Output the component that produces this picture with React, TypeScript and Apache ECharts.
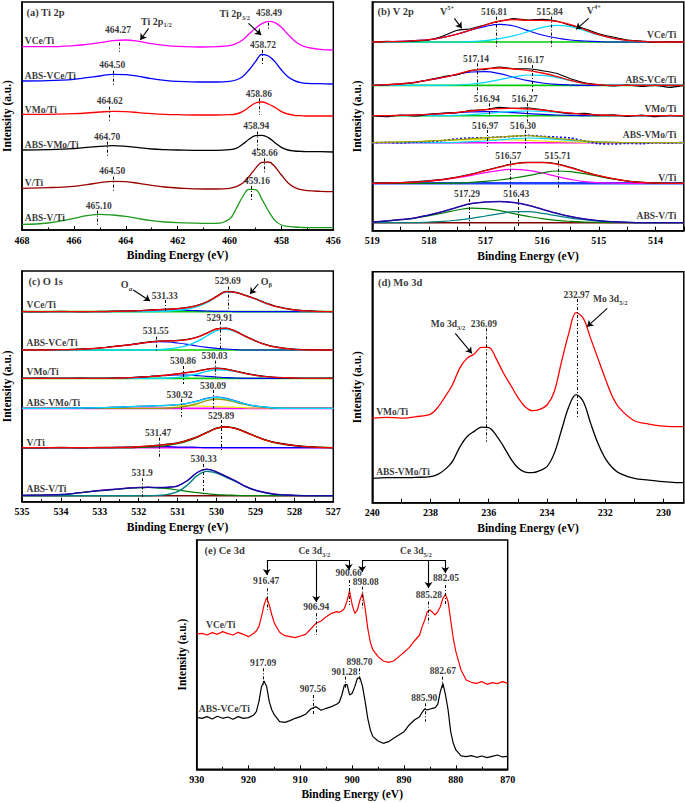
import React, { useEffect, useRef } from 'react';
import * as echarts from 'echarts';

const FONT = '"Liberation Serif", "Times New Roman", serif';

// ---------------- Panel (a) Ti 2p ----------------
const A_X = [468, 467, 466, 465.5, 465, 464.5, 464, 463.5, 463, 462.5, 462, 461, 460.5, 460, 459.75, 459.5, 459.25, 459, 458.75, 458.5, 458.25, 458, 457.75, 457.5, 457.25, 457, 456.5, 456];
const A_VCE = [0, 0, 3, 7, 12, 18, 20, 16, 9, 4, 1, -1, 0, 3, 9, 20, 38, 55, 69, 76, 72, 58, 37, 18, 5, -2, -8, -10];
const A_AVCE = [0, 1, 5, 10, 15, 20, 19, 14, 7, 2, -1, -3, -3, -1, 3, 13, 33, 58, 80, 75, 58, 33, 13, 1, -5, -7, -8, -9];
const A_VMO = [0, 0, 2, 4, 7, 9, 8, 5, 2, 0, -1, -2, -2, -1, 1, 8, 21, 34, 37, 31, 21, 8, 1, -3, -4, -5, -5, -5];
const A_AVMO = [0, 1, 4, 8, 11, 13, 11, 7, 3, 1, 0, -1, -1, 1, 5, 17, 32, 43, 44, 37, 22, 8, 0, -3, -4, -5, -5, -6];
const A_V = [0, 2, 6, 11, 17, 21, 20, 15, 9, 4, 1, -2, -2, 0, 5, 15, 35, 60, 78, 79, 65, 40, 17, 3, -4, -7, -9, -10];
const A_AV = [0, 4, 18, 26, 30, 28, 24, 17, 11, 7, 5, 3, 3, 16, 46, 82, 105, 104, 75, 40, 12, -2, -6, -8, -9, -10, -10, -10];
const A_NAMES = ['VCe/Ti', 'ABS-VCe/Ti', 'VMo/Ti', 'ABS-VMo/Ti', 'V/Ti', 'ABS-V/Ti'];
const A_OFFSETS = [550, 447, 347, 240, 125, 17];
const A_COLORS = ['#ff00ff', '#0000ff', '#ff0000', '#000000', '#990000', '#1e9a1e'];
const A_NAME_Y = [565, 462, 360, 253, 140, 35];
// [line energy, label, text energy, text y, line top, line bottom]
const A_PEAKS: any[] = [
  [464.27, '464.27', 464.28, 598, 562, 535],
  [458.49, '458.49', 458.46, 650, 622, 602],
  [464.5, '464.50', 464.5, 495, 478, 432],
  [458.72, '458.72', 458.69, 555, 540, 495],
  [464.62, '464.62', 464.6, 385, 370, 325],
  [458.86, '458.86', 458.85, 407, 395, 345],
  [464.7, '464.70', 464.7, 278, 265, 218],
  [458.94, '458.94', 458.95, 310, 295, 240],
  [464.5, '464.50', 464.5, 175, 160, 112],
  [458.66, '458.66', 458.63, 230, 215, 170],
  [465.1, '465.10', 465.02, 72, 58, 10],
  [459.16, '459.16', 458.92, 147, 132, 90],
];
const A_ARROWS = [[463.12, 605, 463.44, 570], [459.27, 620, 458.78, 585]];

// ---------------- Panel (b) V 2p ----------------
const B_X = [519, 518.75, 518.5, 518.25, 518, 517.75, 517.5, 517.25, 517, 516.75, 516.5, 516.25, 516, 515.75, 515.5, 515.25, 515, 514.75, 514.5, 514.25, 514, 513.75, 513.5];
const B_VCE_RAW = [0, 2, 1, 3, 6, 18, 35, 40, 52, 62, 70, 66, 68, 63, 50, 40, 25, 15, 6, 3, -1, 1, 0];
const B_VCE_FIT = [0, 1, 2, 4, 7, 14, 24, 37, 51, 63, 67, 65, 65, 62, 52, 37, 22, 11, 5, 2, 0, 0, 0];
const B_VCE_P1 = [0, 1, 2, 4, 7, 14, 24, 36, 47, 53, 48, 34, 21, 12, 6, 3, 1, 0, 0, 0, 0, 0, 0];
const B_VCE_P2 = [0, 0, 0, 0, 0, 0, 0, 1, 4, 10, 19, 31, 44, 50, 46, 34, 21, 11, 5, 2, 0, 0, 0];
const B_AVCE_RAW = [0, 1, 5, 8, 17, 26, 32, 45, 48, 55, 50, 50, 44, 36, 20, 8, 2, -2, 1, -3, 0, -6, 0];
const B_AVCE_FIT = [0, 2, 4, 9, 16, 24, 34, 44, 50, 52, 49, 45, 37, 27, 15, 6, 2, 0, 0, 0, 0, 0, 0];
const B_AVCE_P1 = [0, 2, 4, 9, 16, 24, 33, 40, 41, 35, 24, 14, 7, 3, 1, 0, 0, 0, 0, 0, 0, 0, 0];
const B_AVCE_P2 = [0, 0, 0, 0, 0, 0, 1, 4, 9, 17, 25, 31, 30, 24, 14, 6, 2, 0, 0, 0, 0, 0, 0];
const B_VMO_RAW = [0, -3, 2, -1, 4, 8, 9, 16, 18, 25, 22, 24, 18, 12, 6, 7, 1, 3, -2, 2, -3, 1, -1];
const B_VMO_FIT = [0, 0, 1, 2, 4, 6, 10, 14, 18, 21, 22, 20, 17, 12, 8, 4, 2, 1, 0, 0, 0, 0, 0];
const B_VMO_P1 = [0, 0, 1, 2, 4, 6, 9, 11, 12, 11, 9, 6, 4, 2, 1, 0, 0, 0, 0, 0, 0, 0, 0];
const B_VMO_P2 = [0, 0, 0, 0, 0, 0, 1, 3, 6, 10, 13, 14, 13, 10, 7, 4, 2, 1, 0, 0, 0, 0, 0];
const B_AVMO_RAW = [0, 1, -1, 2, 3, 6, 12, 14, 15, 17, 19, 22, 19, 17, 14, 5, -3, -4, -2, -3, 0, -1, 1];
const B_AVMO_FIT = [0, 1, 2, 3, 5, 7, 9, 12, 15, 17, 20, 21, 18, 13, 9, 5, 2, 1, 0, 0, 0, 0, 0];
const B_AVMO_P1 = [0, 1, 2, 3, 5, 7, 8, 9, 10, 9, 8, 7, 5, 3, 2, 1, 0, 0, 0, 0, 0, 0, 0];
const B_AVMO_P2 = [0, 0, 0, 0, 0, 0, 1, 3, 5, 8, 12, 14, 13, 10, 7, 4, 2, 1, 0, 0, 0, 0, 0];
const B_V_RAW = [0, 1, 2, 5, 8, 12, 19, 28, 39, 50, 59, 63, 63, 59, 48, 35, 23, 14, 7, 3, 1, 0, 0];
const B_V_FIT = [0, 1, 2, 4, 7, 11, 18, 27, 38, 49, 58, 62, 62, 58, 47, 34, 23, 14, 7, 3, 1, 0, 0];
const B_V_P1 = [0, 1, 2, 4, 7, 11, 17, 24, 32, 39, 42, 39, 31, 21, 12, 5, 2, 1, 0, 0, 0, 0, 0];
const B_V_P2 = [0, 0, 0, 0, 0, 0, 1, 3, 6, 10, 16, 23, 31, 37, 35, 29, 21, 13, 7, 3, 1, 0, 0];
const B_AV_RAW = [2, 6, 10, 15, 24, 34, 47, 58, 63, 64, 61, 53, 41, 29, 19, 12, 6, 3, 1, 0, 0, 0, 0];
const B_AV_FIT = [2, 5, 9, 14, 23, 33, 46, 57, 62, 63, 60, 52, 40, 28, 18, 11, 6, 3, 1, 0, 0, 0, 0];
const B_AV_P1 = [2, 5, 9, 14, 21, 29, 38, 44, 42, 36, 27, 19, 12, 7, 4, 2, 1, 0, 0, 0, 0, 0, 0];
const B_AV_P2 = [0, 0, 0, 0, 2, 4, 8, 13, 20, 27, 33, 33, 28, 21, 14, 9, 5, 3, 1, 0, 0, 0, 0];
const B_OFFSETS = [566, 436, 345, 264, 142, 24];
const B_NAME_Y = [587, 452, 364, 285, 157, 42];
// colours: [raw, fit, peak1, peak2, baseline]
const B_COLORS = [
  ['#000000', '#ff0000', '#0000ff', '#00d8ff', '#00cc00'],
  ['#000000', '#ff0000', '#0000ff', '#00d8ff', '#00cc00'],
  ['#000000', '#ff0000', '#0000ff', '#00d8ff', '#00cc00'],
  ['#0000ff', '#a0a000', '#e8e800', '#00d8ff', '#ff00ff'],
  ['#000000', '#ff0000', '#ff00ff', '#008000', '#2040ff'],
  ['#8000c0', '#1010a0', '#008000', '#008080', '#800000'],
];
const B_PEAKS: any[] = [
  [516.81, '516.81', 516.84, 654, 642, 552],
  [515.84, '515.84', 515.86, 654, 642, 552],
  [517.14, '517.14', 517.16, 514, 502, 412],
  [516.17, '516.17', 516.19, 512, 497, 417],
  [516.94, '516.94', 516.97, 395, 382, 342],
  [516.27, '516.27', 516.3, 395, 382, 327],
  [516.97, '516.97', 517.0, 314, 302, 252],
  [516.3, '516.30', 516.33, 314, 302, 247],
  [516.57, '516.57', 516.59, 224, 210, 127],
  [515.71, '515.71', 515.72, 224, 210, 124],
  [517.29, '517.29', 517.32, 109, 95, 7],
  [516.43, '516.43', 516.45, 109, 95, 12],
];
const B_ARROWS = [[517.55, 637, 517.42, 607], [515.18, 637, 515.4, 604]];

// ---------------- Panel (c) O 1s ----------------
const C_X = [535, 534.5, 534, 533.5, 533, 532.5, 532.25, 532, 531.75, 531.5, 531.25, 531, 530.75, 530.5, 530.25, 530, 529.75, 529.5, 529.25, 529, 528.75, 528.5, 528, 527.5, 527];
const C_VCE_RAW = [1, 0, 1, 0, 1, 2, 2, 3, 5, 6, 8, 9, 13, 19, 30, 46, 61, 58, 49, 39, 27, 17, 6, 2, 0];
const C_VCE_FIT = [0, 0, 0, 0, 0, 1, 2, 3, 4, 6, 7, 9, 12, 18, 29, 45, 60, 57, 48, 38, 26, 16, 5, 1, 0];
const C_VCE_OB = [0, 0, 0, 0, 0, 0, 0, 0, 0, 1, 2, 4, 8, 15, 27, 44, 59, 57, 48, 38, 26, 16, 5, 1, 0];
const C_VCE_OA = [0, 0, 0, 0, 0, 1, 2, 3, 4, 5, 5, 5, 4, 3, 2, 1, 1, 0, 0, 0, 0, 0, 0, 0, 0];
const C_AVCE_RAW = [0, 1, 1, 3, 6, 13, 16, 20, 24, 27, 28, 29, 32, 39, 51, 64, 66, 56, 41, 28, 17, 10, 3, 1, 0];
const C_AVCE_FIT = [0, 0, 1, 2, 6, 12, 15, 19, 23, 26, 27, 28, 31, 38, 50, 63, 65, 55, 40, 27, 16, 9, 2, 0, 0];
const C_AVCE_OB = [0, 0, 0, 0, 0, 0, 0, 0, 0, 1, 3, 7, 14, 26, 42, 58, 62, 54, 40, 27, 16, 9, 2, 0, 0];
const C_AVCE_OA = [0, 0, 1, 2, 6, 12, 15, 19, 23, 25, 24, 21, 17, 12, 8, 5, 3, 1, 0, 0, 0, 0, 0, 0, 0];
const C_VMO_RAW = [0, 1, 0, 1, 0, 1, 2, 4, 5, 8, 10, 14, 18, 22, 28, 31, 28, 22, 15, 10, 6, 3, 1, 0, 1];
const C_VMO_FIT = [0, 0, 0, 0, 0, 1, 2, 3, 5, 7, 10, 13, 17, 21, 27, 30, 27, 21, 14, 9, 5, 3, 1, 0, 0];
const C_VMO_OB = [0, 0, 0, 0, 0, 0, 0, 0, 0, 0, 1, 3, 7, 13, 21, 26, 25, 20, 14, 9, 5, 3, 1, 0, 0];
const C_VMO_OA = [0, 0, 0, 0, 0, 1, 2, 3, 5, 7, 9, 10, 10, 8, 6, 4, 2, 1, 0, 0, 0, 0, 0, 0, 0];
const C_AVMO_RAW = [0, 0, 0, 1, 2, 4, 5, 6, 7, 8, 9, 11, 15, 22, 30, 34, 30, 22, 13, 7, 4, 1, 0, 0, 0];
const C_AVMO_FIT = [0, 0, 0, 1, 2, 4, 5, 6, 7, 8, 9, 11, 15, 21, 29, 33, 29, 21, 13, 7, 4, 1, 0, 0, 0];
const C_AVMO_OB = [0, 0, 0, 0, 0, 0, 0, 0, 0, 0, 1, 3, 7, 14, 23, 28, 25, 18, 11, 6, 3, 1, 0, 0, 0];
const C_AVMO_OA = [0, 0, 0, 1, 2, 4, 5, 6, 7, 8, 8, 8, 8, 7, 6, 5, 4, 3, 2, 1, 1, 0, 0, 0, 0];
const C_V_RAW = [0, 0, 1, 0, 1, 1, 2, 3, 5, 8, 11, 15, 23, 33, 46, 59, 63, 58, 47, 35, 24, 16, 7, 2, 0];
const C_V_FIT = [0, 0, 0, 0, 0, 1, 1, 3, 5, 7, 10, 14, 22, 32, 45, 58, 62, 57, 46, 34, 23, 15, 6, 2, 0];
const C_V_OB = [0, 0, 0, 0, 0, 0, 0, 1, 2, 4, 7, 12, 20, 31, 45, 58, 62, 57, 46, 34, 23, 15, 6, 2, 0];
const C_V_OA = [0, 0, 0, 0, 0, 1, 1, 2, 3, 3, 3, 2, 2, 1, 0, 0, 0, 0, 0, 0, 0, 0, 0, 0, 0];
const C_AV_RAW = [1, 2, 4, 9, 16, 21, 24, 25, 26, 25, 26, 30, 46, 70, 80, 72, 58, 44, 28, 17, 10, 5, 1, 0, 0];
const C_AV_FIT = [1, 2, 3, 9, 15, 20, 23, 24, 25, 24, 25, 29, 45, 69, 79, 71, 57, 43, 27, 16, 9, 4, 1, 0, 0];
const C_AV_OB = [0, 0, 0, 0, 0, 0, 0, 0, 0, 1, 4, 12, 32, 60, 73, 68, 55, 42, 27, 16, 9, 4, 1, 0, 0];
const C_AV_OA = [1, 2, 3, 9, 15, 20, 23, 24, 25, 23, 21, 17, 13, 9, 6, 3, 2, 1, 0, 0, 0, 0, 0, 0, 0];
const C_OFFSETS = [570, 455, 370, 280, 162, 18];
const C_NAME_Y = [590, 475, 387, 296, 176, 36];
// colours: [raw, fit, O-beta, O-alpha, baseline]
const C_COLORS = [
  ['#000000', '#ff0000', '#00d8ff', '#0000ff', '#00cc00'],
  ['#000000', '#ff0000', '#00d8ff', '#0000ff', '#00cc00'],
  ['#000000', '#ff0000', '#00d8ff', '#0000ff', '#00cc00'],
  ['#0000ff', '#00d8ff', '#999900', '#e8e800', '#ff00ff'],
  ['#000000', '#ff0000', '#008000', '#0000ff', '#ff00ff'],
  ['#8000c0', '#1010a0', '#008080', '#008000', '#800000'],
];
const C_PEAKS: any[] = [
  [531.33, '531.33', 531.32, 617, 605, 573],
  [529.69, '529.69', 529.7, 660, 645, 575],
  [531.55, '531.55', 531.55, 510, 495, 450],
  [529.91, '529.91', 529.91, 550, 540, 460],
  [530.86, '530.86', 530.85, 420, 407, 353],
  [530.03, '530.03', 530.04, 435, 423, 373],
  [530.92, '530.92', 530.94, 320, 308, 255],
  [530.09, '530.09', 530.08, 345, 335, 280],
  [531.47, '531.47', 531.49, 205, 192, 135],
  [529.89, '529.89', 529.87, 257, 245, 150],
  [531.9, '531.9', 531.9, 85, 70, 15],
  [530.33, '530.33', 530.32, 127, 113, 20],
];
const C_ARROWS = [[532.14, 635, 531.71, 602], [528.93, 653, 529.14, 623]];

// ---------------- Panel (d) Mo 3d ----------------
const D_X = [240, 239.5, 239, 238.5, 238, 237.75, 237.5, 237.25, 237, 236.75, 236.5, 236.25, 236, 235.75, 235.5, 235.25, 235, 234.75, 234.5, 234.25, 234, 233.75, 233.5, 233.25, 233, 232.75, 232.5, 232.25, 232, 231.75, 231.5, 231, 230.5, 230, 229.5, 229.3];
const D_VMO = [0, 3, 1, 5, 13, 33, 65, 100, 150, 180, 193, 213, 213, 180, 137, 100, 63, 35, 23, 27, 40, 80, 170, 255, 317, 300, 240, 180, 120, 65, 30, -7, -17, -23, -25, -25];
const D_AVMO = [0, 2, 2, 3, 5, 12, 27, 50, 93, 125, 141, 154, 152, 130, 97, 60, 32, 19, 17, 23, 35, 75, 145, 215, 251, 230, 165, 105, 60, 32, 15, 0, -5, -10, -13, -13];
const D_OFFSETS = [253, 73];
const D_COLORS = ['#ff0000', '#000000'];
const D_PEAKS: any[] = [
  [236.09, '236.09', 236.15, 535, 523, 183],
  [232.97, '232.97', 232.97, 623, 611, 253],
];
const D_ARROWS = [[237.15, 508, 236.58, 448], [231.93, 583, 232.62, 528]];

// ---------------- Panel (e) Ce 3d ----------------
const E_X = [930, 929, 928, 927, 926, 925, 924, 923, 922, 921, 920, 919, 918.5, 918, 917.5, 917, 916.5, 916, 915.5, 915, 914, 913, 912, 911, 910, 909, 908, 907, 906, 905, 904, 903, 902.5, 902, 901.5, 901, 900.5, 900, 899.5, 899, 898.5, 898, 897.5, 897, 896.5, 896, 895, 894, 893, 892, 891, 890, 889, 888, 887, 886.5, 886, 885.5, 885, 884.5, 884, 883.5, 883, 882.5, 882, 881.5, 881, 880.5, 880, 879, 878, 877, 876, 875, 874, 873, 872, 871, 870];
const E_VCE = [6, 8, 3, 10, 5, 13, 7, 3, 11, 5, -2, 8, 15, 28, 58, 93, 115, 93, 63, 38, 11, 1, -2, -5, 0, 5, 21, 38, 45, 58, 68, 73, 71, 75, 83, 105, 135, 93, 68, 78, 108, 128, 83, 23, -19, -42, -62, -75, -79, -75, -62, -49, -35, -15, 3, 28, 48, 73, 78, 71, 63, 73, 88, 113, 125, 103, 48, -7, -47, -102, -132, -139, -142, -137, -145, -140, -143, -137, -142];
const E_AVCE = [6, 3, 8, 1, 9, 3, 7, 0, 8, 3, 5, 13, 23, 53, 98, 115, 98, 53, 28, 13, -7, -9, -4, 3, 8, 15, 31, 38, 27, 33, 38, 45, 51, 73, 103, 105, 73, 78, 98, 123, 125, 98, 53, 3, -32, -52, -65, -72, -67, -57, -47, -37, -17, -2, 8, 21, 31, 28, 31, 33, 35, 45, 83, 108, 73, 28, -37, -72, -92, -110, -112, -109, -114, -110, -115, -111, -107, -113, -111];
const E_OFFSETS = [400, 150];
const E_COLORS = ['#ff0000', '#000000'];
const E_PEAKS: any[] = [
  [916.47, '916.47', 916.5, 564, 543, 478],
  [906.94, '906.94', 906.85, 485, 468, 403],
  [900.66, '900.66', 900.6, 586, 568, 493],
  [898.08, '898.08', 897.3, 561, 548, 483],
  [885.28, '885.28', 885.1, 521, 503, 438],
  [882.05, '882.05', 881.8, 571, 553, 493],
  [917.09, '917.09', 917.1, 318, 303, 253],
  [907.56, '907.56', 907.5, 238, 223, 163],
  [901.28, '901.28', 901.4, 291, 278, 243],
  [898.7, '898.70', 898.5, 321, 303, 263],
  [885.9, '885.90', 886.0, 211, 198, 143],
  [882.67, '882.67', 882.4, 293, 278, 243],
];
const E_BRACKETS = [[916.47, 628, 900.66, 628], [898.08, 628, 882.05, 628]];
const E_ARROWS = [
  [916.47, 628, 916.47, 583], [906.94, 628, 906.94, 502], [900.66, 628, 900.66, 598],
  [898.08, 628, 898.08, 592], [885.28, 628, 885.28, 544], [882.05, 628, 882.05, 589],
];

// ---------------- helpers ----------------
const pts = (xs: number[], ys: number[], off: number) => xs.map((x, i) => [x, ys[i] + off]);

function curve(g: number, data: number[][], color: string, width = 1.2, smooth: any = 0.35, lineType: any = 'solid', z = 3) {
  return {
    type: 'line', xAxisIndex: g, yAxisIndex: g, data, symbol: 'none', showSymbol: false, smooth,
    lineStyle: { color, width, type: lineType }, silent: true, z,
  };
}

const RICH = {
  s: { fontFamily: FONT, fontWeight: 'bold', fontSize: 6.5, color: '#000', verticalAlign: 'bottom', lineHeight: 14 },
  p: { fontFamily: FONT, fontWeight: 'bold', fontSize: 6.5, color: '#000', verticalAlign: 'top', lineHeight: 14 },
};

function texts(g: number, items: any[]) {
  return {
    type: 'scatter', xAxisIndex: g, yAxisIndex: g, symbolSize: 1, itemStyle: { color: 'rgba(0,0,0,0)' }, silent: true, z: 20,
    data: items.map(([x, y, text, align, size]) => ({
      value: [x, y],
      label: {
        show: true, position: [0, 0], align: align || 'center', verticalAlign: 'middle', formatter: text,
        fontFamily: FONT, fontWeight: 'bold', fontSize: size || 9.5, color: '#000', rich: RICH,
      },
    })),
  };
}

function segs(g: number, list: number[][], arrow: boolean, dashed: boolean) {
  return {
    type: 'line', xAxisIndex: g, yAxisIndex: g, data: [], symbol: 'none', silent: true, z: 15,
    markLine: {
      silent: true, animation: false, symbol: arrow ? ['none', 'arrow'] : ['none', 'none'], symbolSize: arrow ? 6 : 0,
      label: { show: false },
      lineStyle: { color: '#000', width: dashed ? 1 : 1.1, type: dashed ? [3, 2, 1, 2] : 'solid' },
      emphasis: { disabled: true },
      data: list.map(([x1, y1, x2, y2]) => [{ coord: [x1, y1] }, { coord: [x2, y2] }]),
    },
  };
}

const peakLines = (peaks: any[]) => peaks.map((p) => [p[0], p[4], p[0], p[5]]);
const peakTexts = (peaks: any[]) => peaks.map((p) => [p[2], p[3], p[1]]);

const GRIDS = [
  { left: 21.7, top: 2, width: 311.6, height: 228 },
  { left: 372.3, top: 2, width: 311.5, height: 228.7 },
  { left: 21.7, top: 271, width: 311.6, height: 230.7 },
  { left: 372.3, top: 271.7, width: 311.5, height: 231 },
  { left: 196.7, top: 540, width: 311, height: 229.3 },
];
const Y_MAX = [684, 686, 692, 693, 688];

function xAxisBase(g: number, min: number, max: number, extra: any) {
  return {
    type: 'value', gridIndex: g, min, max, inverse: true,
    axisLine: { show: true, onZero: false, lineStyle: { color: '#000', width: 1.5 } },
    axisTick: { show: true, inside: true, length: 4, lineStyle: { color: '#000', width: 1 } },
    axisLabel: { fontFamily: FONT, fontWeight: 'bold', fontSize: 10, color: '#000', margin: 5 },
    splitLine: { show: false },
    name: 'Binding Energy (eV)', nameLocation: 'middle', nameGap: 19,
    nameTextStyle: { fontFamily: FONT, fontWeight: 'bold', fontSize: 11.5, color: '#000' },
    ...extra,
  };
}

function buildOption() {
  const series: any[] = [];

  // (a)
  [A_VCE, A_AVCE, A_VMO, A_AVMO, A_V, A_AV].forEach((ys, i) =>
    series.push(curve(0, pts(A_X, ys, A_OFFSETS[i]), A_COLORS[i], 1.3, 0.4)));
  series.push(segs(0, peakLines(A_PEAKS), false, true));
  series.push(segs(0, A_ARROWS, true, false));
  series.push(texts(0, [
    ...peakTexts(A_PEAKS),
    ...A_NAMES.map((n, i) => [467.87, A_NAME_Y[i], n, 'left']),
    [462.8, 625, 'Ti 2p{s|1/2}', 'center', 10],
    [459.78, 648, 'Ti 2p{s|3/2}', 'center', 10],
    [467.81, 650, '(a) Ti 2p', 'left', 10.5],
  ]));

  // (b)
  const bSets = [
    [B_VCE_RAW, B_VCE_FIT, B_VCE_P1, B_VCE_P2],
    [B_AVCE_RAW, B_AVCE_FIT, B_AVCE_P1, B_AVCE_P2],
    [B_VMO_RAW, B_VMO_FIT, B_VMO_P1, B_VMO_P2],
    [B_AVMO_RAW, B_AVMO_FIT, B_AVMO_P1, B_AVMO_P2],
    [B_V_RAW, B_V_FIT, B_V_P1, B_V_P2],
    [B_AV_RAW, B_AV_FIT, B_AV_P1, B_AV_P2],
  ];
  bSets.forEach(([raw, fit, p1, p2], i) => {
    const off = B_OFFSETS[i];
    const c = B_COLORS[i];
    series.push(curve(1, [[519, off], [513.5, off]], c[4], i === 4 ? 2.5 : 1.6, false));
    series.push(curve(1, pts(B_X, p1, off), c[2], 1.2, 0.4));
    series.push(curve(1, pts(B_X, p2, off), c[3], 1.2, 0.4));
    series.push(curve(1, pts(B_X, raw, off), c[0], i === 3 ? 1.6 : 1.1, i >= 4 ? 0.4 : 0.15, i === 3 ? [2, 2] : 'solid'));
    series.push(curve(1, pts(B_X, fit, off), c[1], 1.3, 0.4));
  });
  series.push(segs(1, peakLines(B_PEAKS), false, true));
  series.push(segs(1, B_ARROWS, true, false));
  series.push(texts(1, [
    ...peakTexts(B_PEAKS),
    ...A_NAMES.map((n, i) => [513.62, B_NAME_Y[i], n, 'right']),
    [517.67, 657, 'V{p|5+}', 'center', 10],
    [515.08, 660, 'V{p|4+}', 'center', 10],
    [518.9, 657, '(b) V 2p', 'left', 10.5],
  ]));

  // (c)
  const cSets = [
    [C_VCE_RAW, C_VCE_FIT, C_VCE_OB, C_VCE_OA],
    [C_AVCE_RAW, C_AVCE_FIT, C_AVCE_OB, C_AVCE_OA],
    [C_VMO_RAW, C_VMO_FIT, C_VMO_OB, C_VMO_OA],
    [C_AVMO_RAW, C_AVMO_FIT, C_AVMO_OB, C_AVMO_OA],
    [C_V_RAW, C_V_FIT, C_V_OB, C_V_OA],
    [C_AV_RAW, C_AV_FIT, C_AV_OB, C_AV_OA],
  ];
  cSets.forEach(([raw, fit, ob, oa], i) => {
    const off = C_OFFSETS[i];
    const c = C_COLORS[i];
    series.push(curve(2, [[535, off], [527, off]], c[4], 1.6, false));
    series.push(curve(2, pts(C_X, oa, off), c[3], 1.2, 0.4));
    series.push(curve(2, pts(C_X, ob, off), c[2], 1.4, 0.4));
    series.push(curve(2, pts(C_X, raw, off), c[0], 1.1, 0.3));
    series.push(curve(2, pts(C_X, fit, off), c[1], 1.3, 0.4));
  });
  series.push(segs(2, peakLines(C_PEAKS), false, true));
  series.push(segs(2, C_ARROWS, true, false));
  series.push(texts(2, [
    ...peakTexts(C_PEAKS),
    ...A_NAMES.map((n, i) => [534.87, C_NAME_Y[i], n, 'left']),
    [532.3, 650, 'O{s|α}', 'center', 10],
    [528.71, 660, 'O{s|β}', 'center', 10],
    [534.82, 660, '(c) O 1s', 'left', 10.5],
  ]));

  // (d)
  [D_VMO, D_AVMO].forEach((ys, i) => series.push(curve(3, pts(D_X, ys, D_OFFSETS[i]), D_COLORS[i], 1.3, 0.35)));
  series.push(segs(3, peakLines(D_PEAKS), false, true));
  series.push(segs(3, D_ARROWS, true, false));
  series.push(texts(3, [
    ...peakTexts(D_PEAKS),
    [239.85, 270, 'VMo/Ti', 'left'],
    [239.85, 90, 'ABS-VMo/Ti', 'left'],
    [237.38, 535, 'Mo 3d{s|3/2}', 'center', 9.5],
    [231.81, 610, 'Mo 3d{s|5/2}', 'center', 9.5],
    [239.79, 659, '(d) Mo 3d', 'left', 10.5],
  ]));

  // (e)
  [E_VCE, E_AVCE].forEach((ys, i) => series.push(curve(4, pts(E_X, ys, E_OFFSETS[i]), E_COLORS[i], 1.2, false)));
  series.push(segs(4, peakLines(E_PEAKS), false, true));
  series.push(segs(4, E_BRACKETS, false, false));
  series.push(segs(4, E_ARROWS, true, false));
  series.push(texts(4, [
    ...peakTexts(E_PEAKS),
    [928.1, 431, 'VCe/Ti', 'left'],
    [929.5, 178, 'ABS-VCe/Ti', 'left'],
    [907.2, 652, 'Ce 3d{s|3/2}', 'center', 9.5],
    [887.6, 652, 'Ce 3d{s|5/2}', 'center', 9.5],
    [928.4, 655, '(e) Ce 3d', 'left', 10.5],
  ]));

  const tickHalf = (a: number, b: number) => { const out: number[] = []; for (let v = a; v <= b + 1e-9; v += 0.5) out.push(v); return out; };
  const tickOne = (a: number, b: number) => { const out: number[] = []; for (let v = a; v <= b + 1e-9; v += 1) out.push(v); return out; };

  const xAxis = [
    xAxisBase(0, 456, 468, { interval: 2, minorTick: { show: true, splitNumber: 2, length: 2.5, lineStyle: { color: '#000' } } }),
    xAxisBase(1, 513.5, 519, {
      axisLabel: { fontFamily: FONT, fontWeight: 'bold', fontSize: 10, color: '#000', margin: 5, customValues: [514, 515, 516, 517, 518, 519] },
      axisTick: { show: true, inside: true, length: 4, lineStyle: { color: '#000' }, customValues: tickHalf(513.5, 519) },
    }),
    xAxisBase(2, 527, 535, { interval: 1, minorTick: { show: true, splitNumber: 2, length: 2.5, lineStyle: { color: '#000' } } }),
    xAxisBase(3, 229.3, 240, {
      axisLabel: { fontFamily: FONT, fontWeight: 'bold', fontSize: 10, color: '#000', margin: 5, customValues: [230, 232, 234, 236, 238, 240] },
      axisTick: { show: true, inside: true, length: 4, lineStyle: { color: '#000' }, customValues: tickOne(230, 240) },
    }),
    xAxisBase(4, 870, 930, { interval: 10, minorTick: { show: true, splitNumber: 2, length: 2.5, lineStyle: { color: '#000' } } }),
  ];

  const yAxis = GRIDS.map((_, g) => ({
    type: 'value', gridIndex: g, min: 0, max: Y_MAX[g],
    axisLine: { show: true, lineStyle: { color: '#000', width: 1.5 } },
    axisTick: { show: false }, axisLabel: { show: false }, splitLine: { show: false },
    name: 'Intensity (a.u.)', nameLocation: 'middle', nameGap: 9,
    nameTextStyle: { fontFamily: FONT, fontWeight: 'bold', fontSize: 11.5, color: '#000' },
  }));

  return {
    animation: false,
    backgroundColor: '#ffffff',
    grid: GRIDS.map((g) => ({ ...g, show: true, borderColor: '#000', borderWidth: 1.5, backgroundColor: 'transparent', containLabel: false })),
    xAxis,
    yAxis,
    series,
  };
}

export default function App() {
  const ref = useRef<HTMLDivElement>(null);
  useEffect(() => {
    if (!ref.current) return;
    const chart = echarts.init(ref.current, undefined, { renderer: 'svg' });
    chart.setOption(buildOption() as any);
    return () => chart.dispose();
  }, []);
  return <div ref={ref} style={{ position: 'fixed', left: 0, top: 0, width: 685, height: 803, background: '#fff' }} />;
}
